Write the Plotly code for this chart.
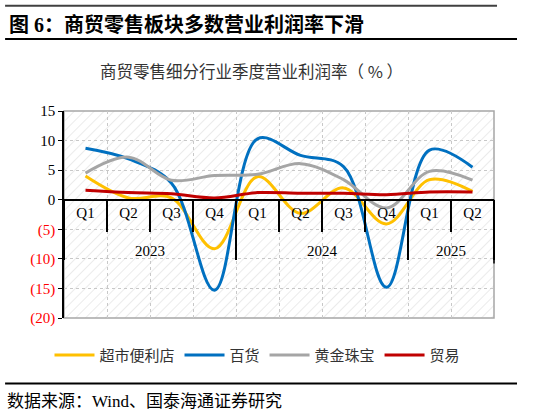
import base64
import plotly.graph_objects as go

# quarterly operating margin (%)
years = ["2023", "2023", "2023", "2023", "2024", "2024", "2024", "2024", "2025", "2025"]
quarters = ["Q1", "Q2", "Q3", "Q4", "Q1", "Q2", "Q3", "Q4", "Q1", "Q2"]

supermarket = [4.0, 0.3, 0.3, -8.3, 3.9, -2.3, 2.0, -4.1, 3.4, 1.4]
department = [8.7, 6.9, 2.8, -15.3, 10.3, 7.5, 5.6, -14.8, 8.4, 5.5]
gold = [4.5, 7.2, 3.3, 4.1, 4.3, 6.1, 3.4, -1.4, 4.8, 3.3]
trade = [1.6, 1.2, 1.0, 0.3, 1.2, 1.1, 1.1, 0.85, 1.3, 1.3]

series = [
    ("超市便利店", supermarket, "#FFC000"),
    ("百货", department, "#0070C0"),
    ("黄金珠宝", gold, "#A5A5A5"),
    ("贸易", trade, "#C00000"),
]

tick_vals = [15, 10, 5, 0, -5, -10, -15, -20]
tick_text = ["15", "10", "5", "0",
             "<span style='color:#FF0000'>(5)</span>",
             "<span style='color:#FF0000'>(10)</span>",
             "<span style='color:#FF0000'>(15)</span>",
             "<span style='color:#FF0000'>(20)</span>"]

y_min, y_max = -20, 15

# extra blank line under each quarter label pushes the year row further down
quarter_labels = [q + "<br> " for q in quarters]

fig = go.Figure()
for name, vals, color in series:
    fig.add_trace(go.Scatter(
        x=[years, quarter_labels], y=vals, name=name, mode="lines",
        line=dict(color=color, width=3, shape="spline", smoothing=1.0),
    ))

# light diagonal hatch behind the plot area
hatch = ('<svg xmlns="http://www.w3.org/2000/svg" width="430" height="207">'
         '<defs><pattern id="p" width="7" height="7" patternUnits="userSpaceOnUse" '
         'patternTransform="rotate(45)"><line x1="0" y1="0" x2="0" y2="7" '
         'stroke="#e0e0e0" stroke-width="1.3"/></pattern></defs>'
         '<rect width="100%" height="100%" fill="url(#p)"/></svg>')
hatch_src = "data:image/svg+xml;base64," + base64.b64encode(hatch.encode()).decode()

serif = "Liberation Serif, Noto Sans CJK SC"
sans = "Noto Sans CJK SC"

fig.update_layout(
    width=534, height=414,
    margin=dict(l=64, r=40, t=111, b=96),
    paper_bgcolor="white",
    plot_bgcolor="rgba(0,0,0,0)",
    showlegend=True,
    legend=dict(orientation="h", x=0.45, xanchor="center", y=-0.18, yanchor="middle",
                font=dict(family=sans, size=15, color="#333333"),
                itemwidth=40, tracegroupgap=0),
    xaxis=dict(
        type="multicategory", anchor="free", position=(0 - y_min) / (y_max - y_min),
        range=[-0.5, len(quarters) - 0.5],
        showline=True, linecolor="black", linewidth=1.5,
        ticks="outside", tickson="boundaries", ticklen=32, tickcolor="black", tickwidth=1.5,
        showdividers=True, dividercolor="black", dividerwidth=1.5,
        showgrid=True, gridcolor="#c8c8c8", griddash="dot", gridwidth=1,
        tickfont=dict(family=serif, size=15, color="black"),
    ),
    yaxis=dict(
        range=[y_min, y_max], tickvals=tick_vals, ticktext=tick_text,
        showline=True, linecolor="black", linewidth=1.5,
        ticks="outside", ticklen=4, tickcolor="black",
        showgrid=True, gridcolor="#c8c8c8", griddash="dot", gridwidth=1,
        zeroline=False,
        tickfont=dict(family=serif, size=15, color="black"),
    ),
    images=[dict(source=hatch_src, xref="paper", yref="paper", x=0, y=1,
                 sizex=1, sizey=1, sizing="stretch", layer="below")],
    shapes=[
        dict(type="rect", xref="paper", yref="paper", x0=0, x1=1, y0=0, y1=1,
             line=dict(color="#a6a6a6", width=1.5), layer="below"),
        # closing divider on the right end of the category axis
        dict(type="line", xref="paper", yref="y", x0=1, x1=1, y0=0, y1=-10.8,
             line=dict(color="black", width=1.5)),
        dict(type="line", xref="paper", yref="paper", x0=-0.137, x1=1.007, y0=1.509, y1=1.509,
             line=dict(color="#404040", width=2)),
        dict(type="line", xref="paper", yref="paper", x0=-0.137, x1=1.0535, y0=1.348, y1=1.348,
             line=dict(color="black", width=2)),
        dict(type="line", xref="paper", yref="paper", x0=-0.137, x1=1.0535, y0=-0.317, y1=-0.317,
             line=dict(color="black", width=2)),
    ],
    annotations=[
        dict(text="<b>图 6：商贸零售板块多数营业利润率下滑</b>", xref="paper", yref="paper",
             x=-0.133, y=1.42, xanchor="left", yanchor="middle", showarrow=False,
             font=dict(family="Liberation Serif, Noto Sans CJK SC", size=20, color="black")),
        dict(text="商贸零售细分行业季度营业利润率（ % ）", xref="paper", yref="paper",
             x=0.437, y=1.195, xanchor="center", yanchor="middle", showarrow=False,
             font=dict(family=sans, size=16.5, color="#333333")),
        dict(text="数据来源：Wind、国泰海通证券研究", xref="paper", yref="paper",
             x=-0.137, y=-0.403, xanchor="left", yanchor="middle", showarrow=False,
             font=dict(family=serif, size=17, color="black")),
    ],
)

fig.write_html("out.html", config={"displayModeBar": False},
               post_script="document.body.style.margin='0px';")
